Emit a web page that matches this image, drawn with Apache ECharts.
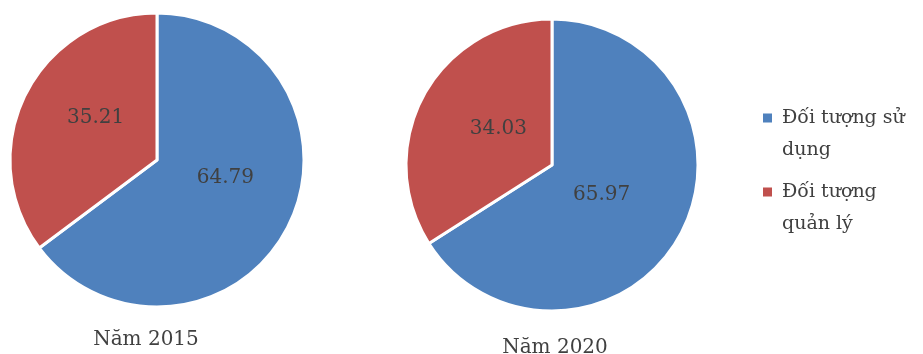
<!DOCTYPE html>
<html>
<head>
<meta charset="utf-8">
<script src="https://cdn.jsdelivr.net/npm/echarts@6/dist/echarts.min.js"></script>
<style>
  html, body { margin: 0; padding: 0; background: #fff; }
  #chart { width: 923px; height: 354px; }
</style>
</head>
<body>
<div id="chart"></div>
<script>
// du lieu
var categories = ['Đối tượng sử dụng', 'Đối tượng quản lý'];
var years = ['Năm 2015', 'Năm 2020'];
var values2015 = [64.79, 35.21];
var values2020 = [65.97, 34.03];
var colors = ['#4F81BD', '#C0504D'];

var chart = echarts.init(document.getElementById('chart'));
var font = 'DejaVu Serif';
var textColor = '#404040';

// nhan so lieu dat lech giong Excel
function makeData(vals, offsets) {
  return vals.map(function (v, i) {
    return { name: categories[i], value: v, label: { offset: offsets[i] } };
  });
}

var pieBase = {
  type: 'pie',
  startAngle: 90,
  clockwise: true,
  itemStyle: { borderColor: '#fff', borderWidth: 3 },
  label: {
    show: true,
    position: 'inside',
    formatter: '{c}',
    color: textColor,
    fontFamily: font,
    fontSize: 20
  },
  labelLine: { show: false },
  emphasis: { disabled: true },
  animation: false
};

var titleStyle = { fontFamily: font, fontSize: 20, fontWeight: 'normal', color: textColor };

var option = {
  color: colors,
  title: [
    { text: years[0], left: 141, top: 325, textAlign: 'center', textStyle: titleStyle },
    { text: years[1], left: 550, top: 333, textAlign: 'center', textStyle: titleStyle }
  ],
  legend: {
    orient: 'vertical',
    left: 758,
    top: 97,
    padding: [5, 0, 5, 5],
    itemWidth: 9,
    itemHeight: 64,
    itemGap: 10,
    // o vuong nam ngang dong dau cua chu
    icon: 'path://M0,0L0.01,0M0,11.5H9V20.5H0ZM0,64L0.01,64',
    itemStyle: { borderWidth: 0 },
    data: categories,
    formatter: function (name) {
      return name === categories[0] ? 'Đối tượng sử\ndụng' : 'Đối tượng\nquản lý';
    },
    textStyle: { fontFamily: font, fontSize: 19, color: textColor, lineHeight: 32, padding: [0, 0, 0, 5] }
  },
  series: [
    Object.assign({}, pieBase, { center: [157, 160], radius: 147,
      data: makeData(values2015, [[0, -16], [7, -8]]) }),
    Object.assign({}, pieBase, { center: [552, 165], radius: 146,
      data: makeData(values2020, [[-17, -7], [13, 0]]) })
  ]
};
chart.setOption(option);
</script>
</body>
</html>
